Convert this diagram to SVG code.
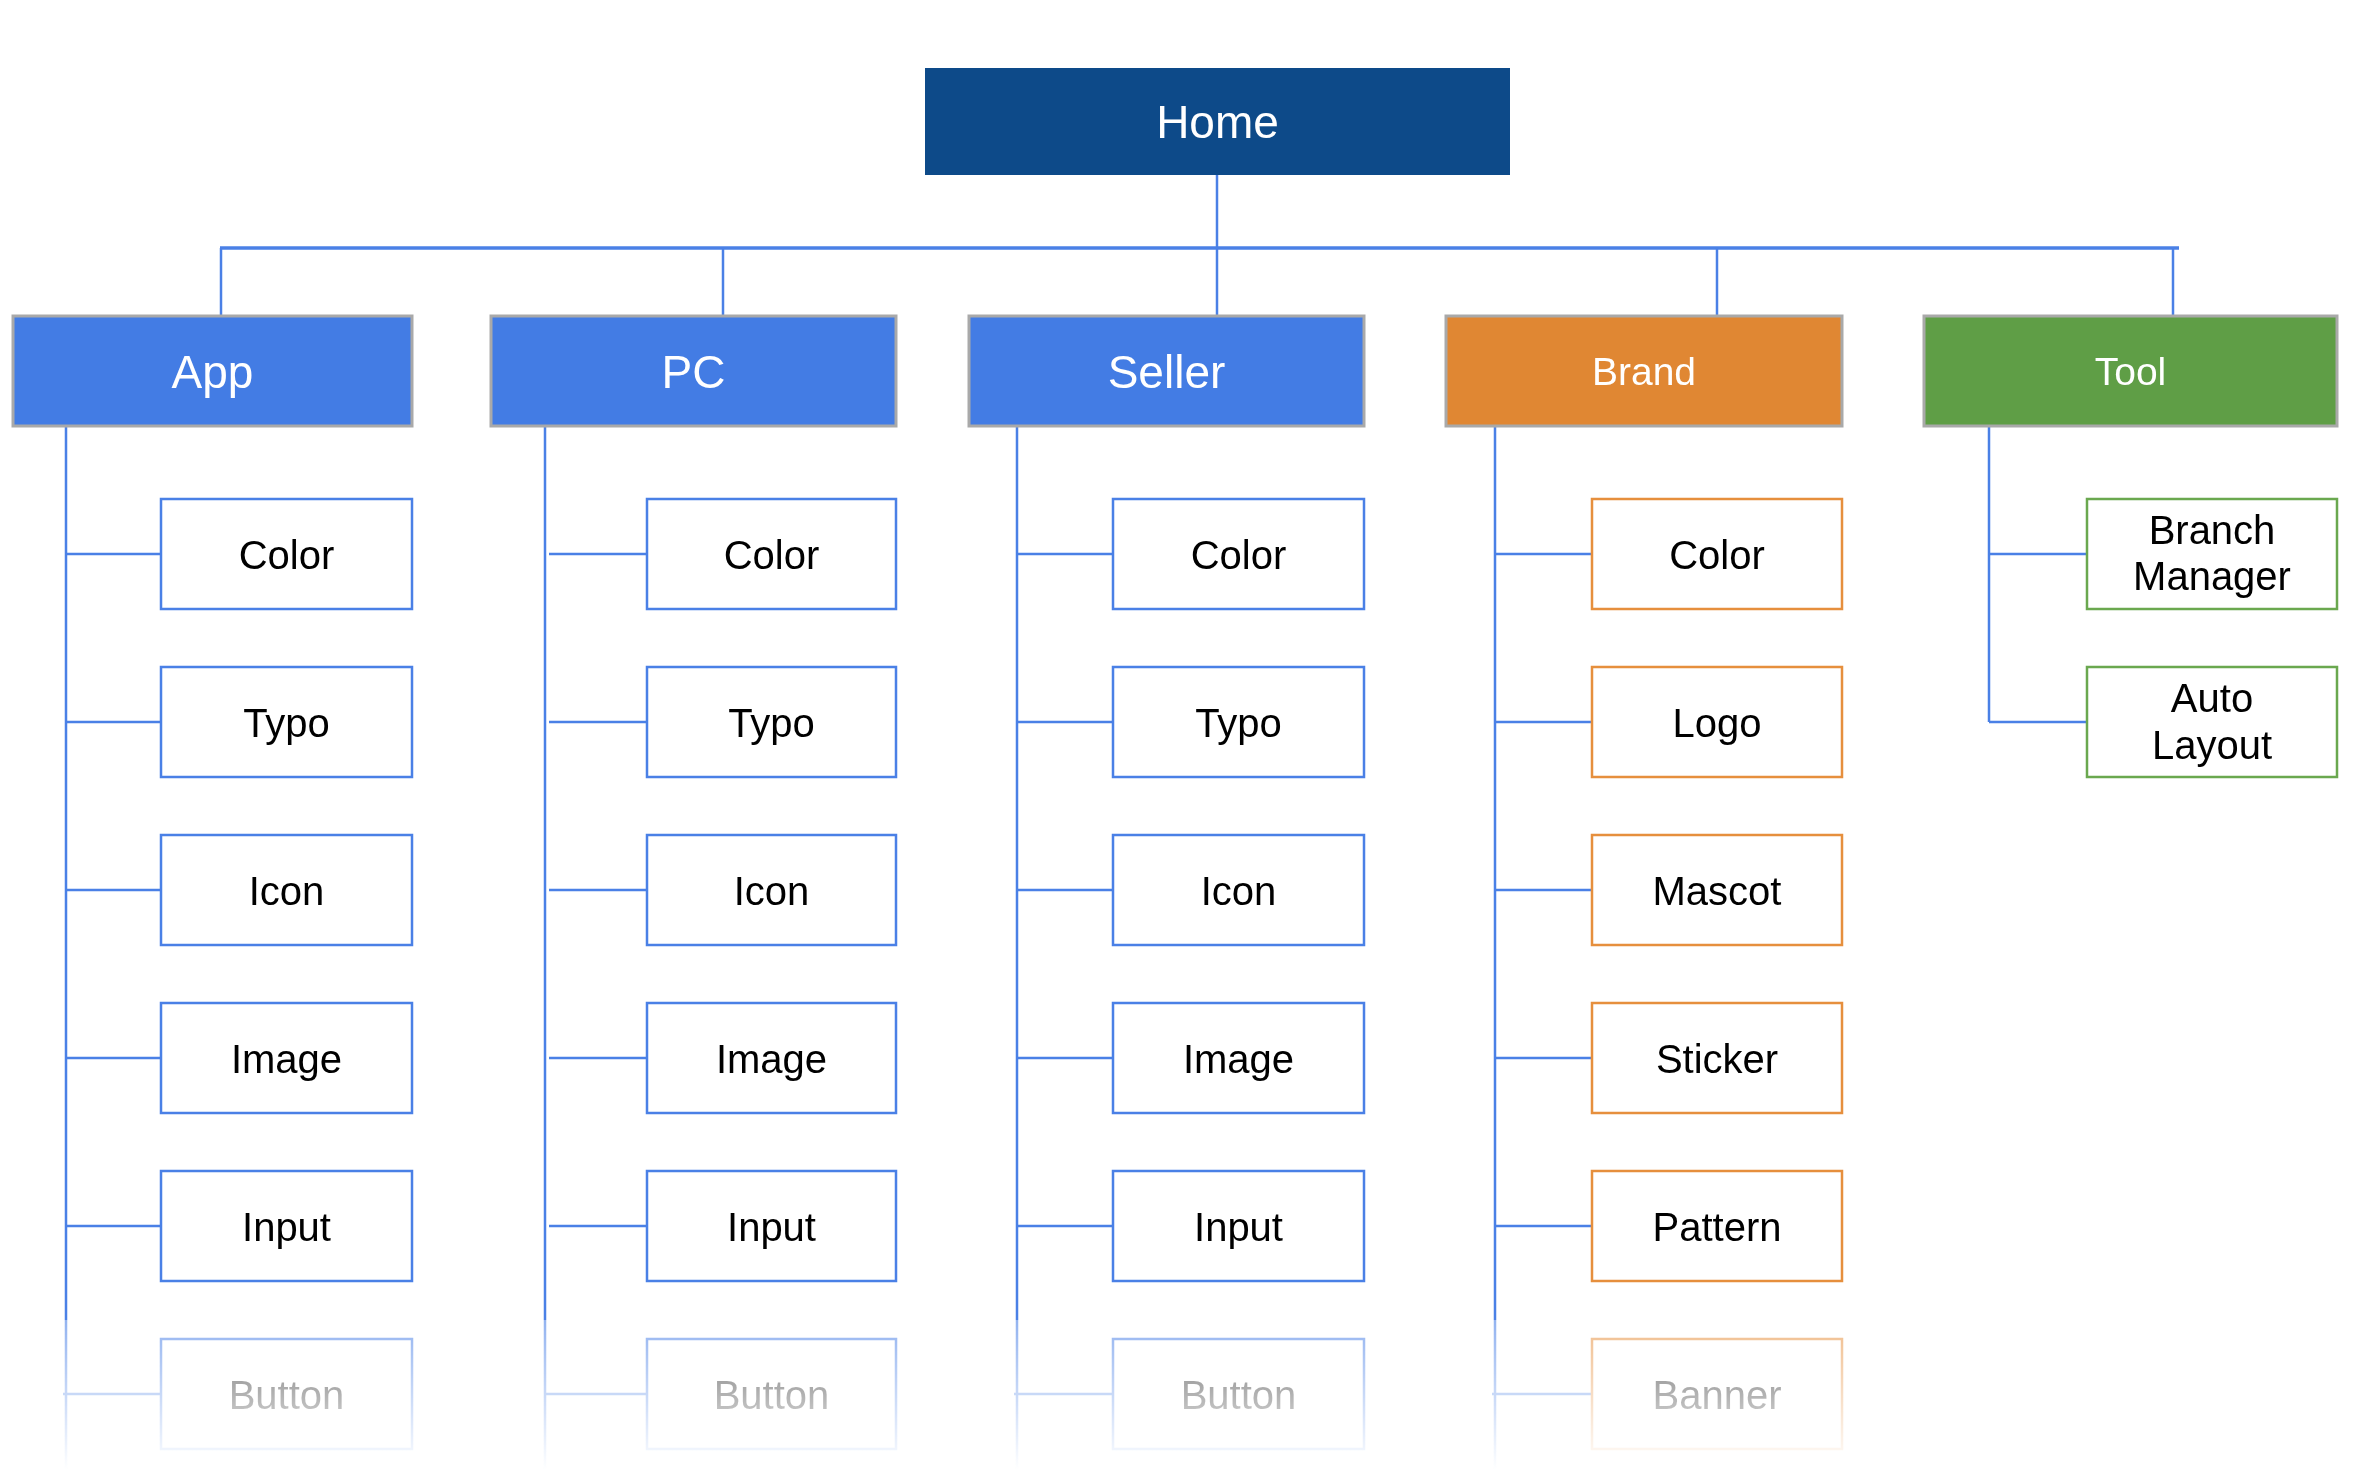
<svg xmlns="http://www.w3.org/2000/svg" width="2376" height="1484" viewBox="0 0 2376 1484">
<defs>
<linearGradient id="fadeGrad" gradientUnits="userSpaceOnUse" x1="0" y1="1320" x2="0" y2="1470">
<stop offset="0" stop-color="#fff" stop-opacity="0.6"/>
<stop offset="1" stop-color="#fff" stop-opacity="0"/>
</linearGradient>
<mask id="fade" maskUnits="userSpaceOnUse" x="0" y="0" width="2376" height="1484">
<rect x="0" y="0" width="2376" height="1320" fill="#fff"/>
<rect x="0" y="1320" width="2376" height="164" fill="url(#fadeGrad)"/>
</mask>
<style>
.ln{stroke:#4a80e6;stroke-width:2.5;fill:none}
.bus{stroke:#4a80e6;stroke-width:3.5;fill:none}
.hdr{stroke:#a9a9a9;stroke-width:3}
.blue{fill:#437ce4}
.orange{fill:#e08733}
.green{fill:#5f9e46}
.cb{fill:#fff;stroke:#4a80e6;stroke-width:2.5}
.co{fill:#fff;stroke:#e68f3d;stroke-width:2.5}
.cg{fill:#fff;stroke:#6aa84f;stroke-width:2.5}
text{font-family:"Liberation Sans",Arial,sans-serif;text-anchor:middle}
.ht{fill:#fff;font-size:46px}
.hs{fill:#fff;font-size:39px}
.ct{fill:#000;font-size:40px}
</style>
</defs>
<rect width="2376" height="1484" fill="#fff"/>
<g mask="url(#fade)">
<g id="connectors">
<line class="ln" x1="1217" y1="175" x2="1217" y2="248"/>
<line class="bus" x1="220" y1="248" x2="2179" y2="248"/>
<line class="ln" x1="221" y1="248" x2="221" y2="316"/>
<line class="ln" x1="723" y1="248" x2="723" y2="316"/>
<line class="ln" x1="1217" y1="248" x2="1217" y2="316"/>
<line class="ln" x1="1717" y1="248" x2="1717" y2="316"/>
<line class="ln" x1="2173" y1="248" x2="2173" y2="316"/>
<line class="ln" x1="66" y1="426" x2="66" y2="1470"/>
<line class="ln" x1="545" y1="426" x2="545" y2="1470"/>
<line class="ln" x1="1017" y1="426" x2="1017" y2="1470"/>
<line class="ln" x1="1495" y1="426" x2="1495" y2="1470"/>
<line class="ln" x1="1989" y1="426" x2="1989" y2="722"/>
<path class="ln" d="M66 554H161M66 722H161M66 890H161M66 1058H161M66 1226H161M63 1394H161"/>
<path class="ln" d="M549 554H647M549 722H647M549 890H647M549 1058H647M549 1226H647M546 1394H647"/>
<path class="ln" d="M1017 554H1113M1017 722H1113M1017 890H1113M1017 1058H1113M1017 1226H1113M1014 1394H1113"/>
<path class="ln" d="M1495 554H1592M1495 722H1592M1495 890H1592M1495 1058H1592M1495 1226H1592M1492 1394H1592"/>
<path class="ln" d="M1989 554H2087M1989 722H2087"/>
</g>
<g id="home"><rect x="925" y="68" width="585" height="107" fill="#0d4a89"/><text class="ht" x="1217.5" y="138">Home</text></g>
<g id="app"><rect class="hdr blue" x="13" y="316" width="399" height="110"/><text class="ht" x="212.5" y="388">App</text></g>
<g id="pc"><rect class="hdr blue" x="491" y="316" width="405" height="110"/><text class="ht" x="693.5" y="388">PC</text></g>
<g id="seller"><rect class="hdr blue" x="969" y="316" width="395" height="110"/><text class="ht" x="1166.5" y="388">Seller</text></g>
<g id="brand"><rect class="hdr orange" x="1446" y="316" width="396" height="110"/><text class="hs" x="1644" y="385">Brand</text></g>
<g id="tool"><rect class="hdr green" x="1924" y="316" width="413" height="110"/><text class="hs" x="2130.5" y="385">Tool</text></g>

<g id="app-color"><rect class="cb" x="161" y="499" width="251" height="110"/><text class="ct" x="286.5" y="569">Color</text></g>
<g id="app-typo"><rect class="cb" x="161" y="667" width="251" height="110"/><text class="ct" x="286.5" y="737">Typo</text></g>
<g id="app-icon"><rect class="cb" x="161" y="835" width="251" height="110"/><text class="ct" x="286.5" y="905">Icon</text></g>
<g id="app-image"><rect class="cb" x="161" y="1003" width="251" height="110"/><text class="ct" x="286.5" y="1073">Image</text></g>
<g id="app-input"><rect class="cb" x="161" y="1171" width="251" height="110"/><text class="ct" x="286.5" y="1241">Input</text></g>
<g id="app-button"><rect class="cb" x="161" y="1339" width="251" height="110"/><text class="ct" x="286.5" y="1409">Button</text></g>

<g id="pc-color"><rect class="cb" x="647" y="499" width="249" height="110"/><text class="ct" x="771.5" y="569">Color</text></g>
<g id="pc-typo"><rect class="cb" x="647" y="667" width="249" height="110"/><text class="ct" x="771.5" y="737">Typo</text></g>
<g id="pc-icon"><rect class="cb" x="647" y="835" width="249" height="110"/><text class="ct" x="771.5" y="905">Icon</text></g>
<g id="pc-image"><rect class="cb" x="647" y="1003" width="249" height="110"/><text class="ct" x="771.5" y="1073">Image</text></g>
<g id="pc-input"><rect class="cb" x="647" y="1171" width="249" height="110"/><text class="ct" x="771.5" y="1241">Input</text></g>
<g id="pc-button"><rect class="cb" x="647" y="1339" width="249" height="110"/><text class="ct" x="771.5" y="1409">Button</text></g>

<g id="seller-color"><rect class="cb" x="1113" y="499" width="251" height="110"/><text class="ct" x="1238.5" y="569">Color</text></g>
<g id="seller-typo"><rect class="cb" x="1113" y="667" width="251" height="110"/><text class="ct" x="1238.5" y="737">Typo</text></g>
<g id="seller-icon"><rect class="cb" x="1113" y="835" width="251" height="110"/><text class="ct" x="1238.5" y="905">Icon</text></g>
<g id="seller-image"><rect class="cb" x="1113" y="1003" width="251" height="110"/><text class="ct" x="1238.5" y="1073">Image</text></g>
<g id="seller-input"><rect class="cb" x="1113" y="1171" width="251" height="110"/><text class="ct" x="1238.5" y="1241">Input</text></g>
<g id="seller-button"><rect class="cb" x="1113" y="1339" width="251" height="110"/><text class="ct" x="1238.5" y="1409">Button</text></g>

<g id="brand-color"><rect class="co" x="1592" y="499" width="250" height="110"/><text class="ct" x="1717" y="569">Color</text></g>
<g id="brand-logo"><rect class="co" x="1592" y="667" width="250" height="110"/><text class="ct" x="1717" y="737">Logo</text></g>
<g id="brand-mascot"><rect class="co" x="1592" y="835" width="250" height="110"/><text class="ct" x="1717" y="905">Mascot</text></g>
<g id="brand-sticker"><rect class="co" x="1592" y="1003" width="250" height="110"/><text class="ct" x="1717" y="1073">Sticker</text></g>
<g id="brand-pattern"><rect class="co" x="1592" y="1171" width="250" height="110"/><text class="ct" x="1717" y="1241">Pattern</text></g>
<g id="brand-banner"><rect class="co" x="1592" y="1339" width="250" height="110"/><text class="ct" x="1717" y="1409">Banner</text></g>

<g id="tool-branch-manager"><rect class="cg" x="2087" y="499" width="250" height="110"/><text class="ct" x="2212" y="544">Branch</text><text class="ct" x="2212" y="590">Manager</text></g>
<g id="tool-auto-layout"><rect class="cg" x="2087" y="667" width="250" height="110"/><text class="ct" x="2212" y="712">Auto</text><text class="ct" x="2212" y="759">Layout</text></g>
</g>
</svg>
